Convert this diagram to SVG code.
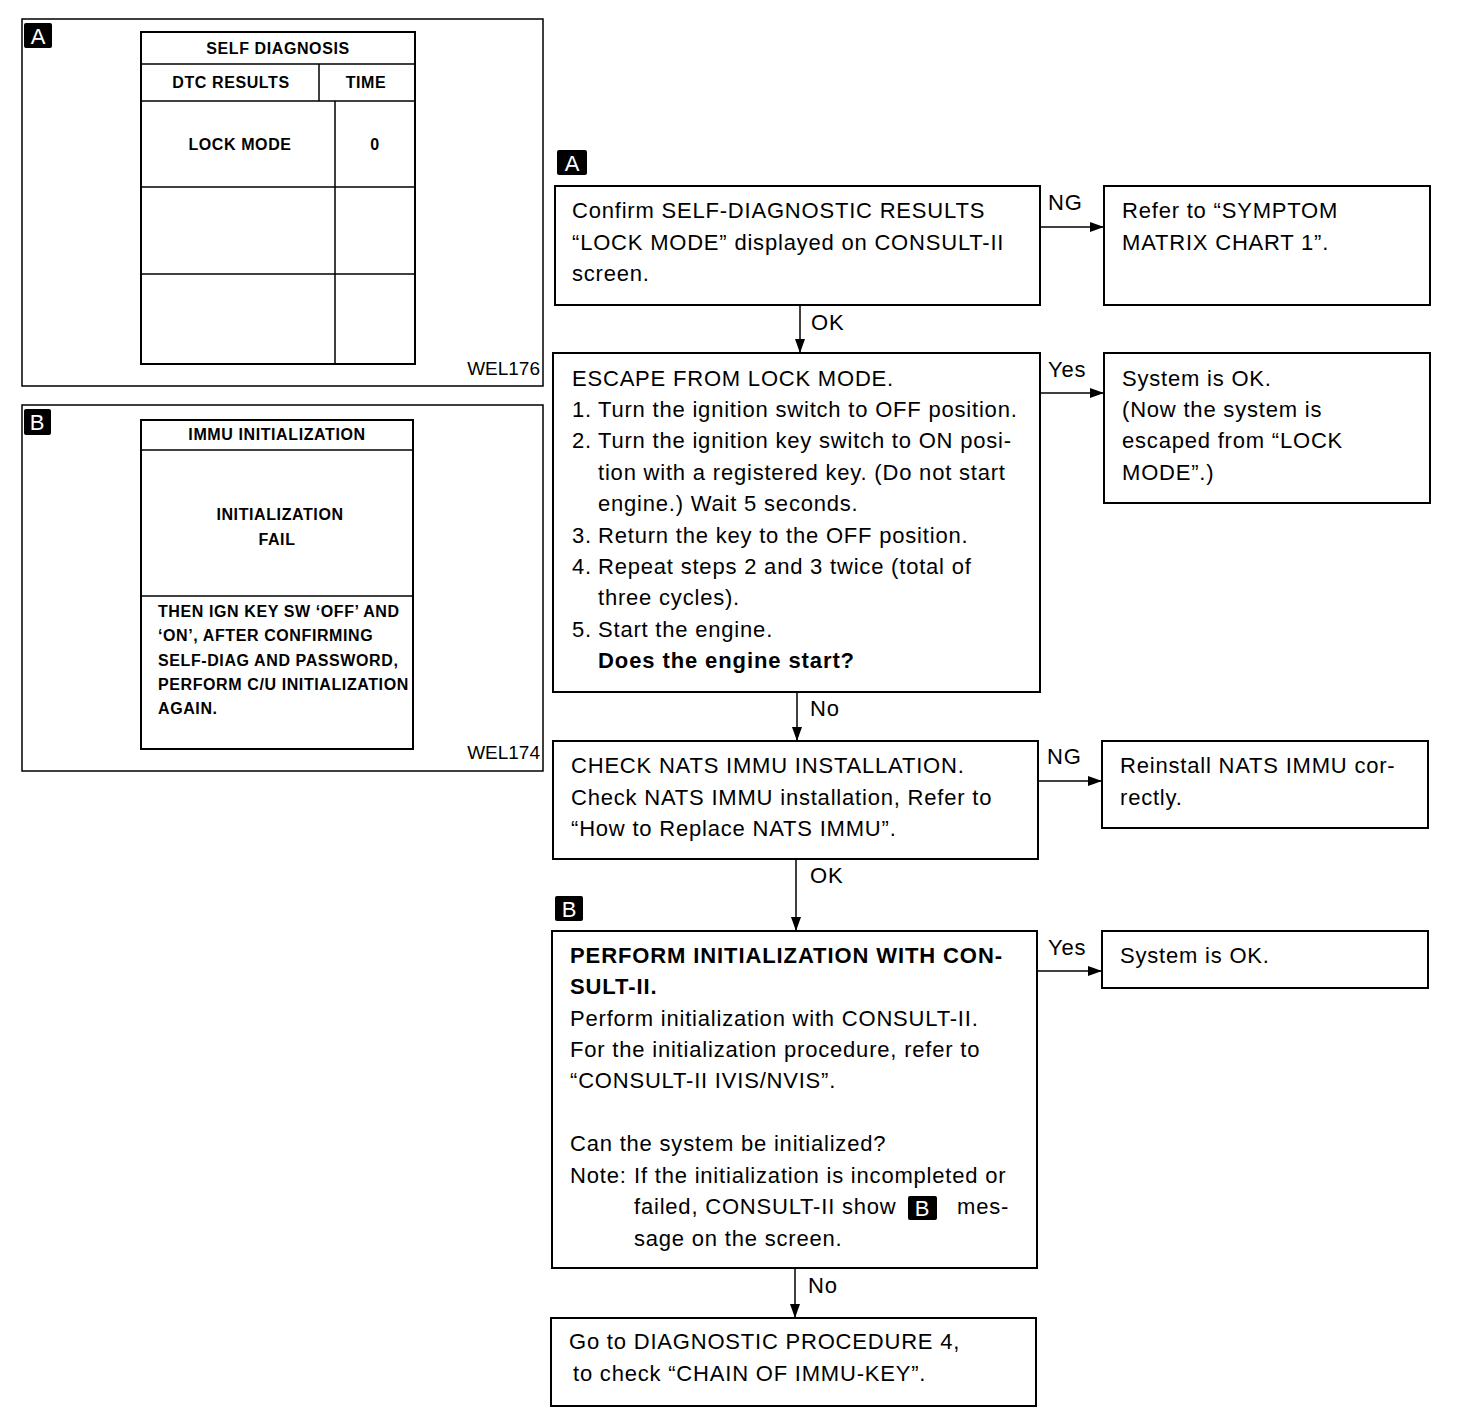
<svg xmlns="http://www.w3.org/2000/svg" width="1472" height="1424" viewBox="0 0 1472 1424">
<defs>
<style>
.t{font-family:"Liberation Sans",Arial,sans-serif;font-size:22px;letter-spacing:0.8px;fill:#000}
.b{font-weight:bold;letter-spacing:0.9px}
.s{font-family:"Liberation Sans",Arial,sans-serif;font-size:16px;font-weight:bold;letter-spacing:0.6px;fill:#000}
.w{font-family:"Liberation Sans",Arial,sans-serif;font-size:19px;fill:#000;text-anchor:end}
.box{fill:#fff;stroke:#000;stroke-width:2}
.thin{fill:none;stroke:#000;stroke-width:1.5}
.ln{stroke:#000;stroke-width:1.5;fill:none}
.badge{fill:#000}
.bl{font-family:"Liberation Sans",Arial,sans-serif;font-size:22px;fill:#fff;text-anchor:middle}
</style>
<marker id="ah" viewBox="0 0 14 10" refX="14" refY="5" markerWidth="14" markerHeight="10" markerUnits="userSpaceOnUse" orient="auto">
<path d="M0,0 L14,5 L0,10 Z" fill="#000"/>
</marker>
</defs>
<rect width="1472" height="1424" fill="#fff"/>

<g id="panelA">
<rect x="22" y="19" width="521" height="367" class="thin"/>
<rect x="24" y="23" width="28" height="25" rx="2" class="badge"/>
<text x="38" y="44" class="bl">A</text>
<rect x="141" y="32" width="274" height="332" class="box" stroke-width="2.5"/>
<line x1="141" y1="64" x2="415" y2="64" class="ln"/>
<line x1="141" y1="101" x2="415" y2="101" class="ln"/>
<line x1="319" y1="64" x2="319" y2="101" class="ln"/>
<line x1="335" y1="101" x2="335" y2="364" class="ln"/>
<line x1="141" y1="187" x2="415" y2="187" class="ln"/>
<line x1="141" y1="274" x2="415" y2="274" class="ln"/>
<text x="278" y="54" class="s" text-anchor="middle">SELF DIAGNOSIS</text>
<text x="231" y="88" class="s" text-anchor="middle">DTC RESULTS</text>
<text x="366" y="88" class="s" text-anchor="middle">TIME</text>
<text x="240" y="150" class="s" text-anchor="middle">LOCK MODE</text>
<text x="375" y="150" class="s" text-anchor="middle">0</text>
<text x="540" y="375" class="w">WEL176</text>
</g>

<g id="panelB">
<rect x="22" y="405" width="521" height="366" class="thin"/>
<rect x="24" y="409" width="27" height="26" rx="2" class="badge"/>
<text x="37" y="430" class="bl">B</text>
<rect x="141" y="420" width="272" height="329" class="box" stroke-width="2.5"/>
<line x1="141" y1="450" x2="413" y2="450" class="ln"/>
<line x1="141" y1="596" x2="413" y2="596" class="ln"/>
<text x="277" y="440" class="s" text-anchor="middle">IMMU INITIALIZATION</text>
<text x="280" y="520" class="s" text-anchor="middle">INITIALIZATION</text>
<text x="277" y="545" class="s" text-anchor="middle">FAIL</text>
<text x="158" y="617" class="s">THEN IGN KEY SW ‘OFF’ AND</text>
<text x="158" y="641" class="s">‘ON’, AFTER CONFIRMING</text>
<text x="158" y="666" class="s">SELF-DIAG AND PASSWORD,</text>
<text x="158" y="690" class="s" letter-spacing="0.2">PERFORM C/U INITIALIZATION</text>
<text x="158" y="714" class="s">AGAIN.</text>
<text x="540" y="759" class="w">WEL174</text>
</g>

<g id="badgeA">
<rect x="557" y="150" width="30" height="25" rx="2" class="badge"/>
<text x="572" y="171" class="bl">A</text>
</g>

<g id="n1">
<rect x="555" y="186" width="485" height="119" class="box"/>
<text class="t"><tspan x="572" y="218">Confirm SELF-DIAGNOSTIC RESULTS</tspan><tspan x="572" y="250">“LOCK MODE” displayed on CONSULT-II</tspan><tspan x="572" y="281">screen.</tspan></text>
</g>
<g id="r1">
<rect x="1104" y="186" width="326" height="119" class="box"/>
<text class="t"><tspan x="1122" y="218">Refer to “SYMPTOM</tspan><tspan x="1122" y="250">MATRIX CHART 1”.</tspan></text>
</g>

<g id="n2">
<rect x="553" y="353" width="487" height="339" class="box"/>
<text class="t">
<tspan x="572" y="386">ESCAPE FROM LOCK MODE.</tspan>
<tspan x="572" y="417">1.</tspan><tspan x="598" y="417">Turn the ignition switch to OFF position.</tspan>
<tspan x="572" y="448">2.</tspan><tspan x="598" y="448">Turn the ignition key switch to ON posi-</tspan>
<tspan x="598" y="480">tion with a registered key. (Do not start</tspan>
<tspan x="598" y="511">engine.) Wait 5 seconds.</tspan>
<tspan x="572" y="543">3.</tspan><tspan x="598" y="543">Return the key to the OFF position.</tspan>
<tspan x="572" y="574">4.</tspan><tspan x="598" y="574">Repeat steps 2 and 3 twice (total of</tspan>
<tspan x="598" y="605">three cycles).</tspan>
<tspan x="572" y="637">5.</tspan><tspan x="598" y="637">Start the engine.</tspan>
<tspan x="598" y="668" class="b">Does the engine start?</tspan>
</text>
</g>
<g id="r2">
<rect x="1104" y="353" width="326" height="150" class="box"/>
<text class="t"><tspan x="1122" y="386">System is OK.</tspan><tspan x="1122" y="417">(Now the system is</tspan><tspan x="1122" y="448">escaped from “LOCK</tspan><tspan x="1122" y="480">MODE”.)</tspan></text>
</g>

<g id="n3">
<rect x="553" y="741" width="485" height="118" class="box"/>
<text class="t"><tspan x="571" y="773">CHECK NATS IMMU INSTALLATION.</tspan><tspan x="571" y="805">Check NATS IMMU installation, Refer to</tspan><tspan x="571" y="836">“How to Replace NATS IMMU”.</tspan></text>
</g>
<g id="r3">
<rect x="1102" y="741" width="326" height="87" class="box"/>
<text class="t"><tspan x="1120" y="773">Reinstall NATS IMMU cor-</tspan><tspan x="1120" y="805">rectly.</tspan></text>
</g>

<g id="badgeB">
<rect x="555" y="896" width="28" height="25" rx="2" class="badge"/>
<text x="569" y="917" class="bl">B</text>
</g>

<g id="n4">
<rect x="552" y="931" width="485" height="337" class="box"/>
<text class="t">
<tspan x="570" y="963" class="b">PERFORM INITIALIZATION WITH CON-</tspan>
<tspan x="570" y="994" class="b">SULT-II.</tspan>
<tspan x="570" y="1026">Perform initialization with CONSULT-II.</tspan>
<tspan x="570" y="1057">For the initialization procedure, refer to</tspan>
<tspan x="570" y="1088">“CONSULT-II IVIS/NVIS”.</tspan>
<tspan x="570" y="1151">Can the system be initialized?</tspan>
<tspan x="570" y="1183">Note:</tspan><tspan x="634" y="1183">If the initialization is incompleted or</tspan>
<tspan x="634" y="1214">failed, CONSULT-II show</tspan><tspan x="957" y="1214">mes-</tspan>
<tspan x="634" y="1246">sage on the screen.</tspan>
</text>
<rect x="908" y="1196" width="29" height="24" rx="2" class="badge"/>
<text x="922" y="1216" class="bl">B</text>
</g>
<g id="r4">
<rect x="1102" y="931" width="326" height="57" class="box"/>
<text x="1120" y="963" class="t">System is OK.</text>
</g>

<g id="n5">
<rect x="551" y="1318" width="485" height="88" class="box"/>
<text class="t"><tspan x="569" y="1349">Go to DIAGNOSTIC PROCEDURE 4,</tspan><tspan x="573" y="1381">to check “CHAIN OF IMMU-KEY”.</tspan></text>
</g>

<g id="connectors">
<line x1="1040" y1="227" x2="1104" y2="227" class="ln" marker-end="url(#ah)"/>
<text x="1048" y="210" class="t">NG</text>
<line x1="800" y1="305" x2="800" y2="353" class="ln" marker-end="url(#ah)"/>
<text x="811" y="330" class="t">OK</text>
<line x1="1040" y1="393" x2="1104" y2="393" class="ln" marker-end="url(#ah)"/>
<text x="1048" y="377" class="t">Yes</text>
<line x1="797" y1="692" x2="797" y2="741" class="ln" marker-end="url(#ah)"/>
<text x="810" y="716" class="t">No</text>
<line x1="1038" y1="781" x2="1102" y2="781" class="ln" marker-end="url(#ah)"/>
<text x="1047" y="764" class="t">NG</text>
<line x1="796" y1="859" x2="796" y2="931" class="ln" marker-end="url(#ah)"/>
<text x="810" y="883" class="t">OK</text>
<line x1="1037" y1="971" x2="1102" y2="971" class="ln" marker-end="url(#ah)"/>
<text x="1048" y="955" class="t">Yes</text>
<line x1="795" y1="1268" x2="795" y2="1318" class="ln" marker-end="url(#ah)"/>
<text x="808" y="1293" class="t">No</text>
</g>
</svg>
